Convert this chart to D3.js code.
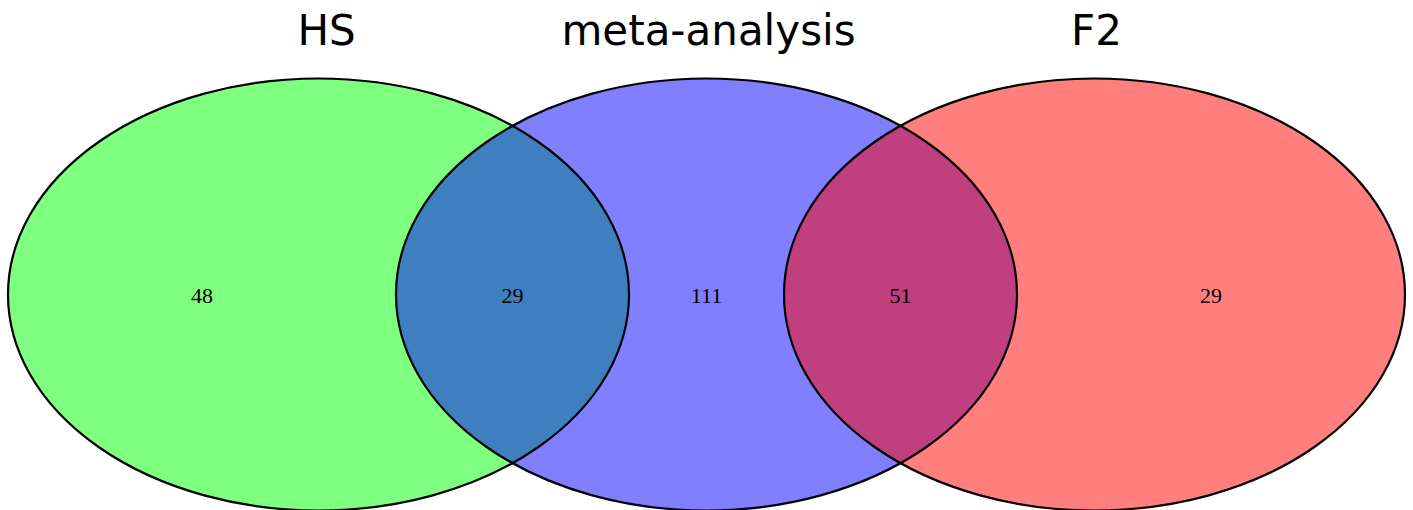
<!DOCTYPE html>
<html>
<head>
<meta charset="utf-8">
<script src="https://cdn.jsdelivr.net/npm/d3@7"></script>
<style>
  body { margin: 0; background: #fff; }
  svg { display: block; }
</style>
</head>
<body>
<div id="venn"></div>
<script>
// set names, fill colours and the counts for each region (left to right)
const setNames = ["HS", "meta-analysis", "F2"]
const setColors = ["#00ff00", "#0000ff", "#ff0000"]
const regionKeys = ["HS", "HS&meta-analysis", "meta-analysis", "meta-analysis&F2", "F2"]
const regionCounts = [48, 29, 111, 51, 29]

// setup the dimensions
const width = 1413
const height = 510
const rx = 310.5
const ry = 216
const cy = 294.5

const svg = d3.select("#venn")
  .append("svg")
    .attr("width", width)
    .attr("height", height)

// x scale placing the ellipse centres
const x = d3.scalePoint()
    .domain(setNames)
    .range([318.5, 1094.5])

// draw the ellipses, half transparent so overlaps blend
svg.selectAll("ellipse")
  .data(setNames)
  .enter()
  .append("ellipse")
    .attr("cx", d => x(d))
    .attr("cy", cy)
    .attr("rx", rx)
    .attr("ry", ry)
    .attr("fill", (d, i) => setColors[i])
    .attr("fill-opacity", 0.5)
    .attr("stroke", "none")

// outlines on top
svg.selectAll("ellipse.outline")
  .data(setNames)
  .enter()
  .append("ellipse")
    .attr("class", "outline")
    .attr("cx", d => x(d))
    .attr("cy", cy)
    .attr("rx", rx)
    .attr("ry", ry)
    .attr("fill", "none")
    .attr("stroke", "#000")
    .attr("stroke-width", 2.2)

// set titles
svg.selectAll("text.title")
  .data(setNames)
  .enter()
  .append("text")
    .attr("class", "title")
    .attr("x", d => x(d) + (d == "HS" ? 8 : 2))
    .attr("y", 45)
    .attr("text-anchor", "middle")
    .attr("font-family", "DejaVu Sans, sans-serif")
    .attr("font-size", 42)
    .attr("fill", "#000")
    .text(d => d)

// region edges along the centre line, label each region at its middle
let edges = []
setNames.forEach(d => { edges.push(x(d) - rx); edges.push(x(d) + rx) })
edges.sort((a, b) => a - b)
const regionMid = regionKeys.map((k, i) => (edges[i] + edges[i + 1]) / 2)

svg.selectAll("text.count")
  .data(regionCounts)
  .enter()
  .append("text")
    .attr("class", "count")
    .attr("x", (d, i) => regionMid[i])
    .attr("y", cy + 8)
    .attr("text-anchor", "middle")
    .attr("font-family", "Liberation Serif, Times New Roman, serif")
    .attr("font-size", 22)
    .attr("fill", "#000")
    .text(d => d)
</script>
</body>
</html>
